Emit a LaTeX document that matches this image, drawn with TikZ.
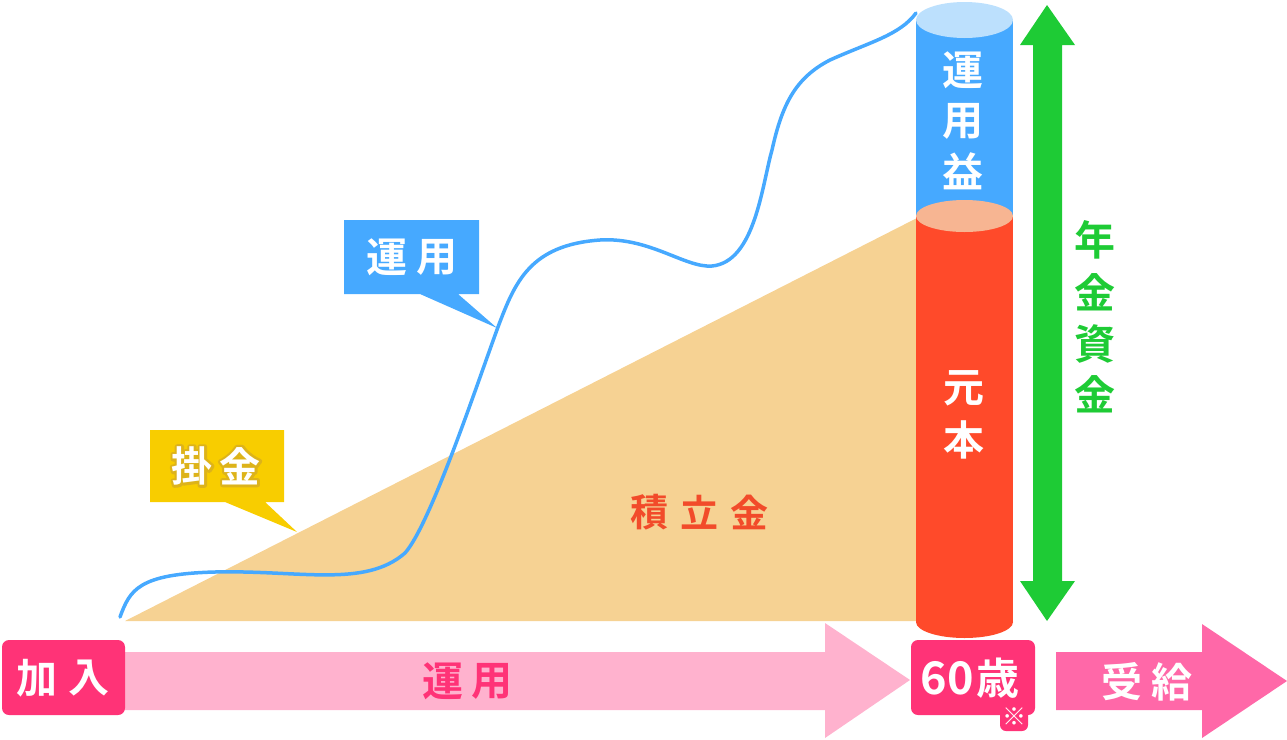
\documentclass[tikz,border=0pt]{standalone}
\usepackage{fontspec}
\newfontfamily\jp{Noto Sans CJK JP Bold}
\definecolor{beige}{HTML}{F6D293}
\definecolor{cblue}{HTML}{46A9FF}
\definecolor{ltblue}{HTML}{BCE0FD}
\definecolor{salmon}{HTML}{F7B592}
\definecolor{cred}{HTML}{FF4A2A}
\definecolor{cgreen}{HTML}{1ECB35}
\definecolor{cyellow}{HTML}{F8CD00}
\definecolor{dpink}{HTML}{FF3377}
\definecolor{lpink}{HTML}{FFB2CE}
\definecolor{mpink}{HTML}{FF68A8}
\definecolor{tred}{HTML}{F24B2A}
\newcommand\glowed[1]{%
  \rlap{\special{pdf:literal direct 1 Tr 5 w 1 j 0.867 0.702 0.102 RG}#1\special{pdf:literal direct 0 Tr}}#1}
\tikzset{
  ch/.style={font=\jp\fontsize{41}{41}\selectfont, inner sep=0pt, anchor=center},
  wch/.style={ch, text=white},
  curve/.style={draw=cblue, line width=3.5pt, line cap=round},
}
\begin{document}
\begin{tikzpicture}[x=1pt,y=-1pt]
\useasboundingbox (0,0) rectangle (1287,739);
% accumulated triangle
\fill[beige] (125,621) -- (917,621) -- (917,218) -- cycle;
% investment curve
\draw[curve] (120,617) .. controls (130,590) and (138,574) .. (215,572)
  .. controls (300,570) and (365,588) .. (405,553)
  .. controls (430,525) and (475,390) .. (498,327)
  .. controls (515,282) and (530,245) .. (600,240)
  .. controls (650,237) and (685,268) .. (712,266)
  .. controls (755,262) and (762,185) .. (772,150)
  .. controls (782,105) and (795,78) .. (830,60)
  .. controls (870,42) and (900,35) .. (916,13);
% cylinder
\fill[cblue] (916,20) rectangle (1013,216);
\fill[ltblue] (964.5,20) ellipse [x radius=48.5, y radius=18];
\fill[cred] (916,216) rectangle (1013,622);
\fill[cred] (964.5,622) ellipse [x radius=48.5, y radius=16];
\fill[salmon] (964.5,216) ellipse [x radius=48.5, y radius=16];
% callouts
\fill[cblue] (344,220) -- (479,220) -- (479,294) -- (458,294) -- (497,328) -- (420,294) -- (344,294) -- cycle;
\fill[cyellow] (150,430) -- (284,430) -- (284,502) -- (265,502) -- (297,532) -- (225,502) -- (150,502) -- cycle;
% green double arrow
\fill[cgreen] (1047,5) -- (1075,45) -- (1062,45) -- (1062,581) -- (1075,581) -- (1047,621)
  -- (1020,581) -- (1033,581) -- (1033,45) -- (1020,45) -- cycle;
% bottom arrows
\fill[lpink] (124,652) -- (825,652) -- (825,623) -- (910,680) -- (825,738) -- (825,710) -- (124,710) -- cycle;
\fill[mpink] (1056,652) -- (1202,652) -- (1202,624) -- (1287,681) -- (1202,738) -- (1202,710) -- (1056,710) -- cycle;
\fill[dpink, rounded corners=7pt] (2,640) rectangle (125,715);
\fill[dpink, rounded corners=7pt] (911,640) rectangle (1035,715);
\fill[dpink, rounded corners=6pt] (1000,703) rectangle (1028,731);
% texts: cylinder
\node[wch] (u1) at (963,70) {運};
\node[wch] (u2) at (963,121) {用};
\node[wch] (u3) at (963,171) {益};
\node[wch] (g1) at (964,388) {元};
\node[wch] (g2) at (964,440) {本};
% green vertical
\node[ch, text=cgreen] (n1) at (1095,240) {年};
\node[ch, text=cgreen] (n2) at (1095,292) {金};
\node[ch, text=cgreen] (n3) at (1095,344) {資};
\node[ch, text=cgreen] (n4) at (1095,394) {金};
% callout texts
\node[wch] (c1) at (387,257) {運};
\node[wch] (c2) at (437,257) {用};
\node[wch] (k1) at (192,466) {\glowed{掛}};
\node[wch] (k2) at (240,466) {\glowed{金}};
% accumulated
\node[ch, text=tred, font=\jp\fontsize{38}{38}\selectfont] (t1) at (649,512) {積};
\node[ch, text=tred, font=\jp\fontsize{38}{38}\selectfont] (t2) at (699,512) {立};
\node[ch, text=tred, font=\jp\fontsize{38}{38}\selectfont] (t3) at (749,512) {金};
% bottom labels
\node[wch] (a1) at (37,678) {加};
\node[wch] (a2) at (89,678) {入};
\node[ch, text=dpink] (b1) at (443,681) {運};
\node[ch, text=dpink] (b2) at (492,681) {用};
\node[wch, font=\jp\fontsize{45}{45}\selectfont] (s1) at (947,678) {60};
\node[wch, font=\jp\fontsize{43}{43}\selectfont] (s2) at (998,678) {歳};
\node[wch, font=\jp\fontsize{24}{24}\selectfont] (s3) at (1014,717) {※};
\node[wch] (r1) at (1122,682) {受};
\node[wch] (r2) at (1172,682) {給};
\end{tikzpicture}
\end{document}
